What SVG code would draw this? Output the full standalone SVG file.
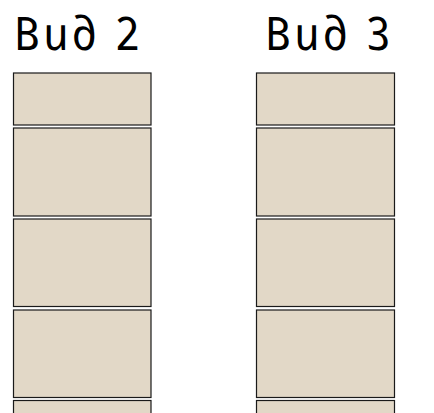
<svg xmlns="http://www.w3.org/2000/svg" width="434" height="413" viewBox="0 0 434 413">
<style>
.t{font-family:"Noto Sans","Open Sans",sans-serif;font-style:italic;font-size:46.2px;fill:#000}
.b{fill:#E2D8C7;stroke:#1a1a1a;stroke-width:1.2}
</style>
<rect width="434" height="413" fill="#fff"/>
<g id="label-2"><text class="t" transform="translate(16.5,49.5) scale(0.95,1) skewX(12)" x="0" y="0" textLength="132" lengthAdjust="spacing">Вид 2</text></g>
<g id="label-3"><text class="t" transform="translate(267.5,49.5) scale(0.95,1) skewX(12)" x="0" y="0" textLength="132" lengthAdjust="spacing">Вид 3</text></g>
<g id="col-2">
<rect class="b" x="13.5" y="73" width="137.5" height="52"/>
<rect class="b" x="13.5" y="128" width="137.5" height="88"/>
<rect class="b" x="13.5" y="219" width="137.5" height="87.5"/>
<rect class="b" x="13.5" y="310" width="137.5" height="87.5"/>
<rect class="b" x="13.5" y="400.5" width="137.5" height="30"/>
</g>
<g id="col-3">
<rect class="b" x="256.5" y="73" width="138" height="52"/>
<rect class="b" x="256.5" y="128" width="138" height="88"/>
<rect class="b" x="256.5" y="219" width="138" height="87.5"/>
<rect class="b" x="256.5" y="310" width="138" height="87.5"/>
<rect class="b" x="256.5" y="400.5" width="138" height="30"/>
</g>
<g id="connectors"></g>
</svg>
